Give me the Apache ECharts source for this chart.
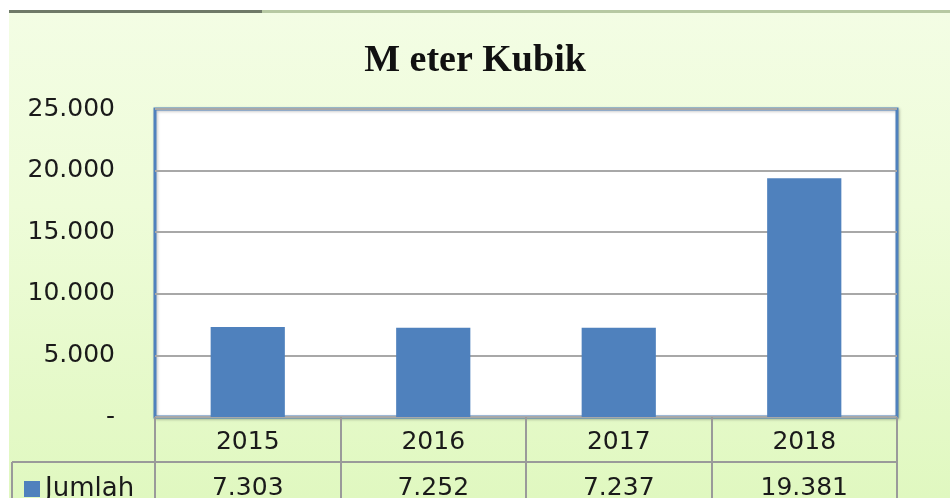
<!DOCTYPE html>
<html>
<head>
<meta charset="utf-8">
<script src="https://cdn.jsdelivr.net/npm/echarts@6/dist/echarts.min.js"></script>
<style>
html,body{margin:0;padding:0;background:#ffffff;}
#wrap{position:relative;width:950px;height:498px;overflow:hidden;background:#ffffff;}
#bg{position:absolute;left:9px;top:11px;right:0;bottom:0;background:linear-gradient(to bottom,#F3FDE4 0%,#EEFCD9 40%,#E0F8C0 100%);}
#chart{position:absolute;left:0;top:0;width:950px;height:498px;}
</style>
</head>
<body>
<div id="wrap"><div id="bg"></div><div id="chart"></div></div>
<script>
const title = 'M eter Kubik';
const categories = ['2015', '2016', '2017', '2018'];
const seriesName = 'Jumlah';
const values = [7303, 7252, 7237, 19381];
const yTicks = [0, 5000, 10000, 15000, 20000, 25000];

function fmt(v){
  if (v === 0) return '-';
  return String(v).replace(/\B(?=(\d{3})+(?!\d))/g, '.');
}

const chart = echarts.init(document.getElementById('chart'), null, {renderer:'canvas'});
const fontSans = 'DejaVu Sans';
const textCol = '#1a1a1a';
const fs = 25;

chart.setOption({
  backgroundColor: 'transparent',
  animation: false,
  title: {
    text: title, left: 'center', top: 37,
    textStyle: {fontFamily: 'Liberation Serif', fontWeight: 'bold', fontSize: 38, color: '#111'}
  },
  legend: {
    data: [seriesName], left: 19, top: 471, icon: 'rect',
    itemWidth: 16, itemHeight: 16, itemGap: 10,
    textStyle: {fontFamily: fontSans, fontSize: 26, color: textCol}
  },
  grid: {
    left: 155, right: 53, top: 109, bottom: 81,
    outerBoundsMode: 'none', containLabel: false,
    show: true, backgroundColor: '#ffffff', borderColor: '#4F81BD', borderWidth: 3,
    shadowColor: 'rgba(0,0,0,0.25)', shadowBlur: 3, shadowOffsetX: 1, shadowOffsetY: 1
  },
  xAxis: [
    {
      type: 'category', data: categories, position: 'bottom',
      axisLine: {show: false},
      axisTick: {show: true, length: 45, lineStyle: {color: '#9a9a9a', width: 2}},
      axisLabel: {margin: 13, fontFamily: fontSans, fontSize: fs, color: textCol}
    },
    {
      type: 'category', data: categories, position: 'bottom', offset: 45,
      axisLine: {show: true, lineStyle: {color: '#9a9a9a', width: 2}},
      axisTick: {show: true, length: 40, lineStyle: {color: '#9a9a9a', width: 2}},
      axisLabel: {margin: 14, fontFamily: fontSans, fontSize: fs, color: textCol,
        formatter: function(v, i){ return fmt(values[i]); }}
    }
  ],
  yAxis: {
    type: 'value', min: yTicks[0], max: yTicks[yTicks.length-1], interval: yTicks[1]-yTicks[0],
    axisLine: {show: false}, axisTick: {show: false},
    axisLabel: {margin: 40, fontFamily: fontSans, fontSize: fs, color: textCol,
      formatter: function(v){ return fmt(v); }},
    splitLine: {lineStyle: {color: '#a8a8a8', width: 2}}
  },
  series: [{
    name: seriesName, type: 'bar', data: values, barWidth: '40%',
    itemStyle: {color: '#4F81BD'}
  }],
  graphic: [
    {type: 'rect', shape: {x: 9, y: 10, width: 253, height: 3}, style: {fill: '#6f7a68'}, silent: true},
    {type: 'rect', shape: {x: 262, y: 10, width: 688, height: 3}, style: {fill: '#b7c9a3'}, silent: true},
    {type: 'line', shape: {x1: 12, y1: 462, x2: 155, y2: 462}, style: {stroke: '#9a9a9a', lineWidth: 2}, silent: true},
    {type: 'line', shape: {x1: 12, y1: 462, x2: 12, y2: 498}, style: {stroke: '#9a9a9a', lineWidth: 2}, silent: true}
  ]
});
</script>
</body>
</html>
